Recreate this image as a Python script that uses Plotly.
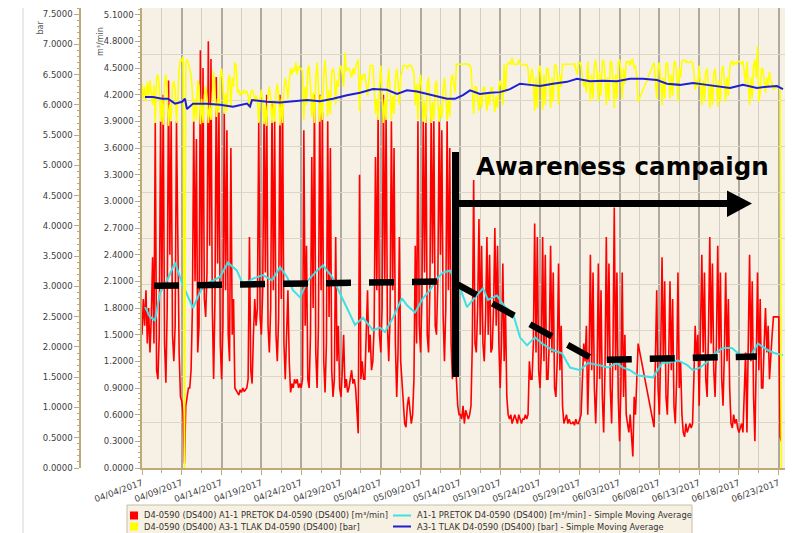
import pandas as pd
import plotly.graph_objects as go

# ---------------- data ----------------
START = "2017-04-04"
STEP = "4h"

# flow m3/min, 6 samples per day (00,04,08,12,16,20h)
flow_apr = [
    1.5, 1.9, 1.6, 2.0, 1.4, 1.8,
    1.3, 1.7, 2.37, 1.4, 3.88, 1.1,
    1.0, 1.5, 3.9, 2.0, 4.2, 1.4,
    0.96, 1.8, 4.36, 2.4, 3.9, 1.5,
    1.2, 1.6, 3.9, 2.2, 1.3, 0.8,
    0.75, 0.6, 0.05, 0.7, 0.8, 0.9,
    0.9, 1.1, 1.8, 3.9, 2.1, 3.7,
    1.3, 1.6, 4.7, 2.0, 4.5, 1.9,
    1.7, 2.2, 4.8, 2.5, 4.6, 1.8,
    1.0, 1.9, 4.4, 2.3, 4.0, 1.4,
    1.0, 1.6, 4.0, 2.0, 3.8, 1.5,
    1.2, 3.6, 1.5, 1.9, 0.9, 0.87,
    0.85, 0.82, 0.88, 0.85, 0.9, 0.86,
    0.88, 0.9, 1.0, 2.6, 1.1, 0.95,
    1.5, 1.9, 1.6, 1.8, 3.9, 1.7,
    1.5, 2.0, 4.0, 2.2, 4.2, 1.6,
    1.3, 1.8, 4.1, 2.0, 3.9, 1.5,
    1.2, 1.7, 4.2, 1.9, 4.1, 1.4,
    1.0, 1.5, 2.0, 1.2, 0.85, 0.95,
    0.9, 1.0, 0.95, 1.0, 0.9, 0.95,
    0.9, 1.0, 3.8, 1.6, 2.5, 1.0,
    0.9, 1.5, 3.5, 1.8, 4.2, 1.3,
    0.9, 1.6, 4.2, 2.0, 4.0, 1.2,
    0.85, 1.4, 3.9, 1.7, 3.6, 1.1,
    0.8, 1.0, 2.6, 1.2, 1.6, 0.9,
    0.8, 1.1, 1.5, 0.9, 1.0, 0.85,
    0.9, 1.0, 1.1, 0.95, 1.0, 0.9,
]
flow_may = [
    0.6, 0.39, 3.3, 1.0, 1.2, 1.0,
    1.0, 1.5, 2.0, 1.3, 1.5, 1.1,
    1.2, 1.6, 3.5, 2.0, 4.0, 1.5,
    1.3, 1.8, 4.2, 2.1, 4.0, 1.6,
    1.2, 1.7, 3.9, 2.0, 3.6, 1.4,
    0.8, 1.3, 2.6, 1.2, 1.0, 0.8,
    0.5, 0.46, 0.7, 0.8, 0.6, 0.5,
    0.6, 1.0, 2.5, 1.4, 3.9, 1.6,
    1.3, 1.9, 3.9, 2.2, 4.0, 1.5,
    1.3, 2.0, 4.0, 2.3, 3.9, 1.6,
    1.5, 2.1, 3.9, 2.4, 3.8, 1.7,
    1.2, 1.8, 3.9, 2.0, 3.6, 1.4,
    1.0, 1.4, 1.8, 1.0, 0.7, 0.6,
    0.6, 0.55, 0.7, 0.5, 0.65, 0.6,
    0.55, 0.6, 0.7, 1.4, 3.24, 1.4,
    1.3, 1.8, 2.8, 1.5, 2.5, 1.4,
    1.2, 1.7, 2.6, 1.5, 2.4, 1.3,
    1.35, 1.8, 2.7, 1.6, 2.5, 1.4,
    0.9, 1.4, 2.3, 1.2, 1.8, 0.8,
    0.6, 0.55, 0.6, 0.5, 0.55, 0.6,
    0.55, 0.5, 0.6, 0.55, 0.5, 0.55,
    0.55, 0.6, 0.55, 0.6, 1.2, 1.0,
    1.0, 1.4, 2.75, 1.3, 2.6, 1.1,
    0.9, 1.3, 2.6, 1.2, 2.4, 1.0,
    1.0, 1.4, 2.5, 1.3, 2.2, 0.9,
    0.8, 1.2, 2.3, 1.1, 1.6, 0.7,
    0.5, 0.55, 0.6, 0.5, 0.55, 0.5,
    0.5, 0.52, 0.48, 0.55, 0.5, 0.5,
    0.55, 0.6, 1.0, 1.4, 1.2, 1.6,
    0.6, 1.2, 2.4, 1.1, 2.2, 0.9,
    0.5, 1.0, 2.3, 1.0, 2.0, 0.8,
]
flow_jun = [
    0.4, 1.1, 2.6, 1.2, 2.3, 0.9,
    0.5, 1.3, 2.93, 1.1, 2.2, 0.8,
    0.3, 0.9, 2.2, 0.8, 1.5, 0.6,
    0.5, 0.4, 0.6, 0.3, 0.13, 0.8,
    0.6, 1.0, 1.4, None, None, None,
    None, None, None, None, None, None,
    None, None, 0.46, 1.2, 2.0, 0.9,
    0.6, 1.3, 2.37, 1.2, 2.1, 0.8,
    0.6, 1.2, 2.1, 1.1, 1.9, 0.7,
    0.5, 1.0, 2.2, 0.9, 1.2, 0.6,
    0.4, 0.35, 0.5, 0.4, 0.45, 0.5,
    0.45, 0.5, 1.0, 1.6, 1.2, 1.5,
    0.7, 1.4, 2.4, 1.3, 2.2, 1.0,
    0.8, 1.5, 2.6, 1.4, 2.3, 1.1,
    0.8, 1.4, 2.5, 1.3, 2.2, 1.0,
    0.7, 1.3, 2.2, 1.2, 1.9, 0.9,
    0.5, 0.45, 0.6, 0.5, 0.55, 0.45,
    0.4, 0.45, 0.5, 0.4, 1.0, 1.3,
    0.4, 1.3, 2.4, 1.2, 2.1, 0.8,
    0.3, 1.2, 2.2, 1.1, 1.9, 0.9,
    0.9, 1.4, 1.8, 1.3, 1.6, 1.0,
    1.3, 1.5, 1.7, 1.7, 1.7, 1.7,
    1.7, 0.35, 0.3,
]

# pressure bar, same time grid
pressure_apr = [
    6.35, 6.1, 6.3, 6.05, 6.38, 6.15,
    6.4, 6.2, 6.0, 6.33, 5.7, 6.45,
    6.5, 6.3, 5.72, 6.1, 5.67, 6.35,
    6.5, 6.2, 5.65, 6.0, 5.75, 6.3,
    6.4, 6.25, 5.7, 6.1, 6.6, 6.75,
    6.72, 6.8, 0.0, 6.7, 6.75, 6.68,
    6.6, 6.5, 6.2, 5.72, 6.1, 5.75,
    6.4, 6.3, 5.68, 6.1, 5.7, 6.15,
    6.3, 6.1, 5.7, 6.0, 5.75, 6.25,
    6.55, 6.2, 5.8, 6.1, 5.9, 6.45,
    6.6, 6.35, 5.85, 6.2, 5.9, 6.4,
    6.5, 5.95, 6.45, 6.3, 6.7, 6.65,
    6.2, 6.25, 6.15, 6.22, 6.18, 6.25,
    6.2, 6.22, 6.15, 5.95, 6.2, 6.25,
    6.2, 6.05, 6.15, 6.1, 5.7, 6.1,
    6.25, 6.05, 5.68, 6.0, 5.65, 6.15,
    6.3, 6.1, 5.7, 6.05, 5.72, 6.2,
    6.35, 6.15, 5.66, 6.1, 5.7, 6.25,
    6.45, 6.3, 6.1, 6.4, 6.6, 6.5,
    6.6, 6.55, 6.7, 6.5, 6.65, 6.6,
    6.6, 6.55, 5.75, 6.3, 6.0, 6.6,
    6.65, 6.3, 5.8, 6.2, 5.7, 6.45,
    6.7, 6.3, 5.72, 6.15, 5.75, 6.5,
    6.74, 6.4, 5.8, 6.25, 5.85, 6.55,
    6.6, 6.5, 6.0, 6.4, 6.3, 6.6,
    6.65, 6.5, 6.3, 6.87, 6.55, 6.6,
    6.6, 6.55, 6.45, 6.6, 6.5, 6.62,
]
pressure_may = [
    6.7, 6.75, 5.9, 6.5, 6.4, 6.5,
    6.5, 6.3, 6.15, 6.4, 6.65, 6.65,
    6.65, 6.3, 5.85, 6.1, 5.75, 6.3,
    6.65, 6.2, 5.7, 6.1, 5.75, 6.3,
    6.6, 6.25, 5.75, 6.15, 5.85, 6.4,
    6.6, 6.4, 6.0, 6.45, 6.55, 6.65,
    6.65, 6.65, 6.6, 6.65, 6.66, 6.64,
    6.6, 6.5, 6.0, 6.35, 5.75, 6.3,
    6.5, 6.2, 5.72, 6.05, 5.7, 6.35,
    6.45, 6.15, 5.7, 6.05, 5.75, 6.3,
    6.4, 6.1, 5.72, 6.0, 5.78, 6.25,
    6.45, 6.2, 5.75, 6.1, 5.8, 6.4,
    6.5, 6.35, 6.2, 6.67, 6.67, 6.67,
    6.67, 6.67, 6.66, 6.67, 6.68, 6.67,
    6.67, 6.66, 6.6, 6.3, 5.85, 6.3,
    6.3, 6.1, 5.9, 6.2, 5.95, 6.25,
    6.3, 6.15, 5.9, 6.2, 6.0, 6.28,
    6.28, 6.1, 5.88, 6.15, 5.95, 6.3,
    6.4, 6.3, 6.0, 6.67, 6.2, 6.67,
    6.67, 6.7, 6.67, 6.78, 6.67, 6.67,
    6.67, 6.67, 6.75, 6.67, 6.67, 6.66,
    6.67, 6.66, 6.67, 6.6, 6.3, 6.5,
    6.6, 6.4, 5.9, 6.45, 5.95, 6.55,
    6.65, 6.45, 5.92, 6.5, 6.0, 6.6,
    6.6, 6.4, 5.95, 6.45, 6.05, 6.65,
    6.67, 6.5, 6.0, 6.5, 6.3, 6.67,
    6.67, 6.67, 6.66, 6.67, 6.67, 6.67,
    6.67, 6.67, 6.68, 6.6, 6.5, 6.7,
    6.7, 6.65, 6.5, 6.3, 6.4, 6.2,
    6.72, 6.45, 6.05, 6.5, 6.1, 6.65,
    6.75, 6.5, 6.05, 6.55, 6.15, 6.7,
]
pressure_jun = [
    6.75, 6.5, 6.0, 6.45, 6.08, 6.7,
    6.72, 6.4, 5.95, 6.5, 6.1, 6.7,
    6.75, 6.55, 6.1, 6.6, 6.35, 6.72,
    6.7, 6.72, 6.65, 6.74, 6.75, 6.6,
    6.65, 6.45, 6.05, None, None, None,
    None, None, None, None, None, None,
    None, None, 6.7, 6.4, 6.1, 6.6,
    6.7, 6.4, 6.0, 6.45, 6.1, 6.68,
    6.7, 6.45, 6.1, 6.5, 6.15, 6.7,
    6.72, 6.55, 6.05, 6.6, 6.45, 6.72,
    6.74, 6.74, 6.7, 6.72, 6.7, 6.7,
    6.72, 6.7, 6.55, 6.25, 6.4, 6.3,
    6.65, 6.35, 6.0, 6.4, 6.05, 6.55,
    6.6, 6.3, 5.95, 6.35, 6.0, 6.5,
    6.6, 6.35, 5.97, 6.4, 6.05, 6.55,
    6.65, 6.4, 6.05, 6.45, 6.15, 6.6,
    6.7, 6.72, 6.65, 6.7, 6.68, 6.72,
    6.72, 6.7, 6.68, 6.72, 6.5, 6.35,
    6.72, 6.4, 6.0, 6.45, 6.1, 6.65,
    6.75, 6.45, 6.97, 6.05, 6.2, 6.6,
    6.6, 6.4, 6.2, 6.45, 6.3, 6.55,
    6.4, 6.35, 6.25, 6.3, 6.28, 6.3,
    6.3, 6.25, 0.0,
]

# moving averages (day offset from START, value)
flow_ma_days = [0.38, 1.0, 1.63, 2.26, 3.14, 4.15, 5.03, 6.41, 7.54, 8.54,
                9.8, 10.8, 11.93, 12.69, 13.94, 15.2, 16.33, 17.34, 18.22, 18.97,
                19.85, 20.85, 21.98, 22.74, 23.87, 24.87, 25.75, 26.76, 27.76, 29.02,
                29.9, 30.53, 31.53, 32.66, 33.29, 34.3, 35.3, 36.18, 37.06, 37.81,
                38.69, 39.95, 40.83, 41.83, 42.84, 43.47, 44.6, 45.6, 46.6, 47.49,
                48.37, 49.37, 50.25, 51.5, 52.76, 53.77, 55.03, 56.03, 57.29, 58.54,
                59.67, 60.43, 61.31, 62.31, 64.2, 65.33, 66.33, 67.34, 68.47, 69.22,
                70.1, 70.98, 71.98, 72.99, 74.12, 75.13, 76.38, 77.39, 78.52, 79.52,
                80.53]
flow_ma_vals = [1.81, 1.70, 1.66, 1.97, 2.11, 2.31, 2.08, 1.80, 2.03, 2.09,
                2.15, 2.31, 2.22, 2.06, 2.13, 2.17, 2.11, 2.26, 2.15, 2.0,
                1.92, 2.11, 2.22, 2.28, 2.15, 1.97, 1.80, 1.61, 1.69, 1.55,
                1.58, 1.53, 1.69, 1.91, 1.83, 1.75, 1.91, 2.0, 2.13, 2.2,
                2.22, 2.03, 1.81, 1.92, 2.02, 1.89, 1.94, 1.81, 1.74, 1.47,
                1.38, 1.47, 1.40, 1.33, 1.29, 1.13, 1.10, 1.18, 1.16, 1.13,
                1.18, 1.13, 1.10, 1.04, 1.02, 1.18, 1.19, 1.21, 1.16, 1.10,
                1.13, 1.19, 1.29, 1.35, 1.35, 1.27, 1.25, 1.40, 1.33, 1.29,
                1.27]
pressure_ma_days = [0.38, 1.38, 2.51, 3.27, 4.15, 5.03, 5.4, 5.65, 6.41, 8.17,
                    9.8, 11.43, 13.19, 13.57, 13.82, 15.7, 17.34, 18.97, 20.73, 22.36,
                    23.99, 25.75, 27.39, 29.02, 30.78, 32.04, 33.29, 34.55, 35.8, 37.06,
                    38.32, 39.32, 40.33, 41.21, 42.46, 43.72, 44.97, 46.23, 47.49, 48.74,
                    50.0, 51.63, 53.39, 54.65, 56.28, 57.91, 59.67, 61.31, 62.94, 64.7,
                    65.95, 67.59, 69.22, 70.98, 72.61, 73.87, 75.5, 77.26, 78.52, 79.77,
                    80.53]
pressure_ma_vals = [6.13, 6.13, 6.10, 6.10, 6.02, 6.05, 6.10, 5.93, 6.02, 6.02,
                    6.00, 5.97, 6.02, 5.97, 6.08, 6.05, 6.04, 6.06, 6.08, 6.06,
                    6.10, 6.16, 6.20, 6.26, 6.25, 6.18, 6.24, 6.22, 6.18, 6.13,
                    6.10, 6.10, 6.16, 6.24, 6.18, 6.20, 6.21, 6.26, 6.35, 6.33,
                    6.31, 6.35, 6.38, 6.43, 6.39, 6.40, 6.39, 6.43, 6.43, 6.41,
                    6.35, 6.33, 6.36, 6.33, 6.30, 6.28, 6.33, 6.28, 6.30, 6.31,
                    6.26]

# hand-drawn trend (dashed black) in m3/min
trend_days = [1.51, 38.94, 56.91, 77.26]
trend_vals = [2.05, 2.10, 1.215, 1.255]

x_tick_labels_fmt = "%m/%d/%Y"
legend_labels = [
    "D4-0590 (DS400) A1-1 PRETOK D4-0590 (DS400) [m³/min]",
    "D4-0590 (DS400) A3-1 TLAK D4-0590 (DS400) [bar]",
    "A1-1 PRETOK D4-0590 (DS400) [m³/min] - Simple Moving Average",
    "A3-1 TLAK D4-0590 (DS400) [bar] - Simple Moving Average",
]
annotation_text = "Awareness campaign"

# ---------------- build ----------------
start = pd.Timestamp(START)
flow = flow_apr + flow_may + flow_jun
pressure = pressure_apr + pressure_may + pressure_jun
times = pd.date_range(start, periods=len(flow), freq=STEP)


def to_dates(days):
    return [start + pd.Timedelta(days=d) for d in days]


# page has an 8px body margin: figure spans page pixels 8..793 / 8..533
OFF = 8
W, H = 785, 525
ML, MR, MT, MB = 0, 5, 0, 65
PW, PH = W - ML - MR, H - MT - MB


def px(xp):
    return (xp - OFF - ML) / PW


def py(yp):
    return (MT + PH - (yp - OFF)) / PH


TAN = "#bfa978"
TXT = "#404040"
RED, YEL, CYA, BLU = "#ff0000", "#ffff00", "#3fe0e4", "#1f1fd2"
FONT = "DejaVu Sans"

fig = go.Figure()
fig.add_trace(go.Scatter(x=times, y=pressure, yaxis="y2", mode="lines",
                         line=dict(color=YEL, width=1.6), connectgaps=True,
                         name=legend_labels[1], showlegend=False))
fig.add_trace(go.Scatter(x=times, y=flow, yaxis="y", mode="lines",
                         line=dict(color=RED, width=1.6), connectgaps=True,
                         name=legend_labels[0], showlegend=False))
fig.add_trace(go.Scatter(x=to_dates(flow_ma_days), y=flow_ma_vals, yaxis="y",
                         mode="lines", line=dict(color=CYA, width=2),
                         name=legend_labels[2], showlegend=False))
fig.add_trace(go.Scatter(x=to_dates(pressure_ma_days), y=pressure_ma_vals, yaxis="y2",
                         mode="lines", line=dict(color=BLU, width=2),
                         name=legend_labels[3], showlegend=False))
fig.add_trace(go.Scatter(x=to_dates(trend_days), y=trend_vals, yaxis="y",
                         mode="lines", line=dict(color="black", width=6.5, dash="25px,18px"),
                         showlegend=False, hoverinfo="skip"))
# empty trace to host the grid axis
fig.add_trace(go.Scatter(x=[], y=[], yaxis="y3", showlegend=False, hoverinfo="skip"))

x_end = start + pd.Timedelta(days=81.16)

fig.update_layout(
    width=W, height=H,
    margin=dict(l=ML, r=MR, t=MT, b=MB, autoexpand=False),
    paper_bgcolor="white", plot_bgcolor="#f7f1e5",
    showlegend=False,
    font=dict(family=FONT, size=9, color=TXT),
    xaxis=dict(
        domain=[px(142), 1], range=[start, x_end], type="date",
        tick0=START, dtick=5 * 86400000, tickformat=x_tick_labels_fmt,
        tickangle=-20, tickfont=dict(size=8.8, color=TXT),
        ticks="outside", ticklen=5, tickcolor=TAN,
        showline=True, linecolor=TAN, linewidth=1.5,
        showgrid=True, gridcolor="#aeaaa2", gridwidth=1.5, zeroline=False,
        minor=dict(dtick=2.5 * 86400000, tick0=START, showgrid=True,
                   gridcolor="#d3cec4", gridwidth=1, ticks="outside", ticklen=3,
                   tickcolor=TAN),
    ),
    yaxis=dict(
        range=[0, 5.175], dtick=0.3, tick0=0, tickformat=".4f",
        tickfont=dict(size=8.5, color=TXT), ticks="outside", ticklen=5,
        tickcolor=TAN, showline=True, linecolor=TAN, linewidth=1.5,
        showgrid=False, zeroline=False, ticklabeloverflow="allow",
        minor=dict(dtick=0.06, ticks="outside", ticklen=2, tickcolor=TAN, showgrid=False),
    ),
    yaxis2=dict(
        overlaying="y", anchor="free", position=px(80), side="left",
        range=[0, 7.6], dtick=0.5, tick0=0, tickformat=".4f",
        tickfont=dict(size=8.5, color=TXT), ticks="outside", ticklen=5,
        tickcolor=TAN, showline=True, linecolor=TAN, linewidth=1.5,
        showgrid=False, zeroline=False, ticklabeloverflow="allow",
        minor=dict(dtick=0.1, ticks="outside", ticklen=2, tickcolor=TAN, showgrid=False),
    ),
    yaxis3=dict(
        overlaying="y", anchor="x", side="right", range=[0, 10], dtick=1,
        showgrid=True, gridcolor="#ddd6c7", gridwidth=1, showticklabels=False,
        ticks="", showline=False, zeroline=False,
    ),
)

shapes = []
annos = []
# panel divider on the far left
shapes.append(dict(type="line", xref="paper", yref="paper", x0=px(23), x1=px(23),
                   y0=py(533), y1=py(8), line=dict(color="#d6d6d6", width=1)))
# campaign marker
shapes.append(dict(type="line", xref="paper", yref="paper", x0=px(455.5), x1=px(455.5),
                   y0=py(377), y1=py(152), line=dict(color="black", width=7)))
shapes.append(dict(type="line", xref="paper", yref="paper", x0=px(458), x1=px(729),
                   y0=py(203.5), y1=py(203.5), line=dict(color="black", width=7)))
shapes.append(dict(type="path", xref="paper", yref="paper",
                   path=f"M {px(727)},{py(190.5)} L {px(752)},{py(203.5)} L {px(727)},{py(217)} Z",
                   fillcolor="black", line=dict(color="black", width=0)))
annos.append(dict(xref="paper", yref="paper", x=px(622.5), y=py(166.5),
                  text=annotation_text, showarrow=False, xanchor="center", yanchor="middle",
                  font=dict(family="DejaVu Sans", size=24.5, color="black", weight="bold")))

# axis titles
annos.append(dict(xref="paper", yref="paper", x=px(34), y=py(19), text="bar",
                  showarrow=False, textangle=-90, font=dict(size=8, color="#555")))
annos.append(dict(xref="paper", yref="paper", x=px(94), y=py(25), text="m³/min",
                  showarrow=False, textangle=-90, font=dict(size=8, color="#555")))

# legend box
shapes.append(dict(type="rect", xref="paper", yref="paper", x0=px(127), x1=px(692),
                   y0=py(545), y1=py(505), fillcolor="#f7f1e3",
                   line=dict(color="#c9bea4", width=1)))
rows = [515.5, 526.5]
sw = [(RED, YEL), (CYA, BLU)]
for r, yp in enumerate(rows):
    shapes.append(dict(type="rect", xref="paper", yref="paper", x0=px(130), x1=px(138),
                       y0=py(yp + 4), y1=py(yp - 4), fillcolor=sw[0][r], line=dict(width=0)))
    shapes.append(dict(type="line", xref="paper", yref="paper", x0=px(393), x1=px(411),
                       y0=py(yp), y1=py(yp), line=dict(color=sw[1][r], width=2)))
    annos.append(dict(xref="paper", yref="paper", x=px(142), y=py(yp), text=legend_labels[r],
                      showarrow=False, xanchor="left", yanchor="middle",
                      font=dict(size=8.3, color="#333")))
    annos.append(dict(xref="paper", yref="paper", x=px(415), y=py(yp), text=legend_labels[2 + r],
                      showarrow=False, xanchor="left", yanchor="middle",
                      font=dict(size=8.3, color="#333")))

fig.update_layout(shapes=shapes, annotations=annos)
fig.write_html("out.html")
